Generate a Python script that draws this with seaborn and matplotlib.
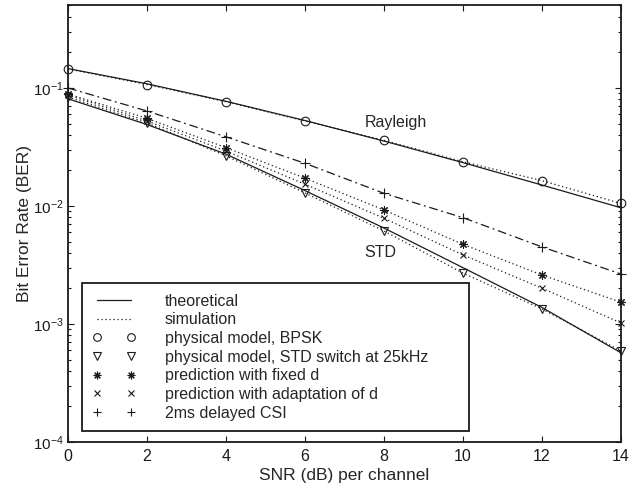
import numpy as np
import pandas as pd
import matplotlib
matplotlib.use("Agg")
import matplotlib.pyplot as plt
from matplotlib.lines import Line2D
import seaborn as sns

# ---- data ----
snr = [0, 2, 4, 6, 8, 10, 12, 14]

rayleigh_theory = [0.146, 0.1085, 0.0771, 0.0530, 0.0355, 0.0233, 0.01505, 0.00966]
rayleigh_sim = [0.145, 0.107, 0.0765, 0.0525, 0.036, 0.0237, 0.0164, 0.0105]

std_theory = [0.081, 0.049, 0.0275, 0.0135, 0.0065, 0.0030, 0.00138, 0.00057]
std_sim = [0.0839, 0.0505, 0.0266, 0.0129, 0.00614, 0.00270, 0.00134, 0.00059]

fixed_d = [0.089, 0.0553, 0.0312, 0.0172, 0.00925, 0.00473, 0.00260, 0.00153]
adapt_d = [0.0873, 0.0525, 0.0292, 0.0153, 0.00787, 0.00385, 0.00201, 0.00102]
delayed_csi = [0.100, 0.0638, 0.0386, 0.0230, 0.0128, 0.00796, 0.00450, 0.00265]

legend_labels = ["theoretical", "simulation", "physical model, BPSK",
                 "physical model, STD switch at 25kHz", "prediction with fixed d",
                 "prediction with adaptation of d", "2ms delayed CSI"]
xticks = [0, 2, 4, 6, 8, 10, 12, 14]

# ---- style ----
sns.set_theme(style="ticks")
plt.rcParams["font.family"] = ["Liberation Sans", "DejaVu Sans"]
plt.rcParams["mathtext.fontset"] = "custom"
plt.rcParams["mathtext.rm"] = "Liberation Sans"
plt.rcParams["mathtext.it"] = "Liberation Sans:italic"
plt.rcParams["mathtext.default"] = "regular"
plt.rcParams["axes.unicode_minus"] = False

fs = 11.5
fig = plt.figure(figsize=(6.39, 4.86), dpi=100)
ax = fig.add_axes([68 / 639, 1 - 442 / 486, (621 - 68) / 639, (442 - 5.5) / 486])

dotted = (0, (1, 2.2))
dashdot = (0, (7, 3, 1.5, 3))

def line(y, ls, lw=0.9):
    sns.lineplot(x=snr, y=y, ax=ax, color="k", linestyle=ls, linewidth=lw,
                 estimator=None, sort=False, legend=False)

def marks(y, marker, ms, mew=0.8):
    sns.lineplot(x=snr, y=y, ax=ax, color="k", linestyle="none", marker=marker,
                 markersize=ms, markerfacecolor="none", markeredgecolor="k",
                 markeredgewidth=mew, estimator=None, sort=False, legend=False,
                 clip_on=False)

# theory lines
line(rayleigh_theory, "-")
line(std_theory, "-")
# simulation dotted lines
line(rayleigh_sim, dotted, 0.9)
line(std_sim, dotted, 0.9)
line(fixed_d, dotted, 0.9)
line(adapt_d, dotted, 0.9)
# delayed CSI dash-dot
line(delayed_csi, dashdot, 0.9)

asterisk = (8, 2, 0)
marks(rayleigh_sim, "o", 6.2)
marks(std_sim, "v", 6.2)
marks(fixed_d, asterisk, 6.0)
marks(adapt_d, "x", 4.0)
marks(delayed_csi, "+", 6.5)

ax.set_yscale("log")
ax.set_xlim(0, 14)
ax.set_ylim(1e-4, 0.5)
ax.set_xticks(xticks)
ax.set_xticklabels([str(t) for t in xticks])
ax.tick_params(axis="both", which="both", direction="in", top=True, right=True,
               labelsize=fs, colors="k")
ax.tick_params(which="major", length=4, width=0.8, pad=5)
ax.tick_params(axis="y", which="major", pad=3, labelsize=11)
ax.tick_params(which="minor", length=2.5, width=0.8)
ax.tick_params(axis="x", which="minor", bottom=False, top=False)
for s in ax.spines.values():
    s.set_linewidth(1.3)
    s.set_color("k")

ax.set_xlabel("SNR (dB) per channel", fontsize=12.5, labelpad=3)
ax.set_ylabel("Bit Error Rate (BER)", fontsize=12.5, labelpad=1)

ax.text(8.3, 0.0505, "Rayleigh", fontsize=fs, ha="center", va="center")
ax.text(7.9, 0.0040, "STD", fontsize=fs, ha="center", va="center")

handles = [
    Line2D([], [], color="k", linestyle="-", linewidth=0.9),
    Line2D([], [], color="k", linestyle=dotted, linewidth=0.9),
    Line2D([], [], color="k", linestyle="none", marker="o", markersize=5.5,
           markerfacecolor="none", markeredgewidth=0.8),
    Line2D([], [], color="k", linestyle="none", marker="v", markersize=5.5,
           markerfacecolor="none", markeredgewidth=0.8),
    Line2D([], [], color="k", linestyle="none", marker=asterisk, markersize=5.5,
           markeredgewidth=0.8),
    Line2D([], [], color="k", linestyle="none", marker="x", markersize=4,
           markeredgewidth=0.8),
    Line2D([], [], color="k", linestyle="none", marker="+", markersize=6,
           markeredgewidth=0.8),
]
x0 = (81.7 - 68) / 553
y0 = (442 - 431) / 436.5
w = (469.3 - 81.7) / 553
leg = ax.legend(handles, legend_labels, loc="lower left",
                bbox_to_anchor=(x0, y0, w, 0.3), mode="expand", borderaxespad=0,
                numpoints=2, handlelength=2.75, handletextpad=1.8,
                labelspacing=0.23, borderpad=0.65, fontsize=fs,
                frameon=True, fancybox=False, framealpha=1, edgecolor="k")
leg.get_frame().set_linewidth(1.3)

fig.savefig("out.png", dpi=100)
